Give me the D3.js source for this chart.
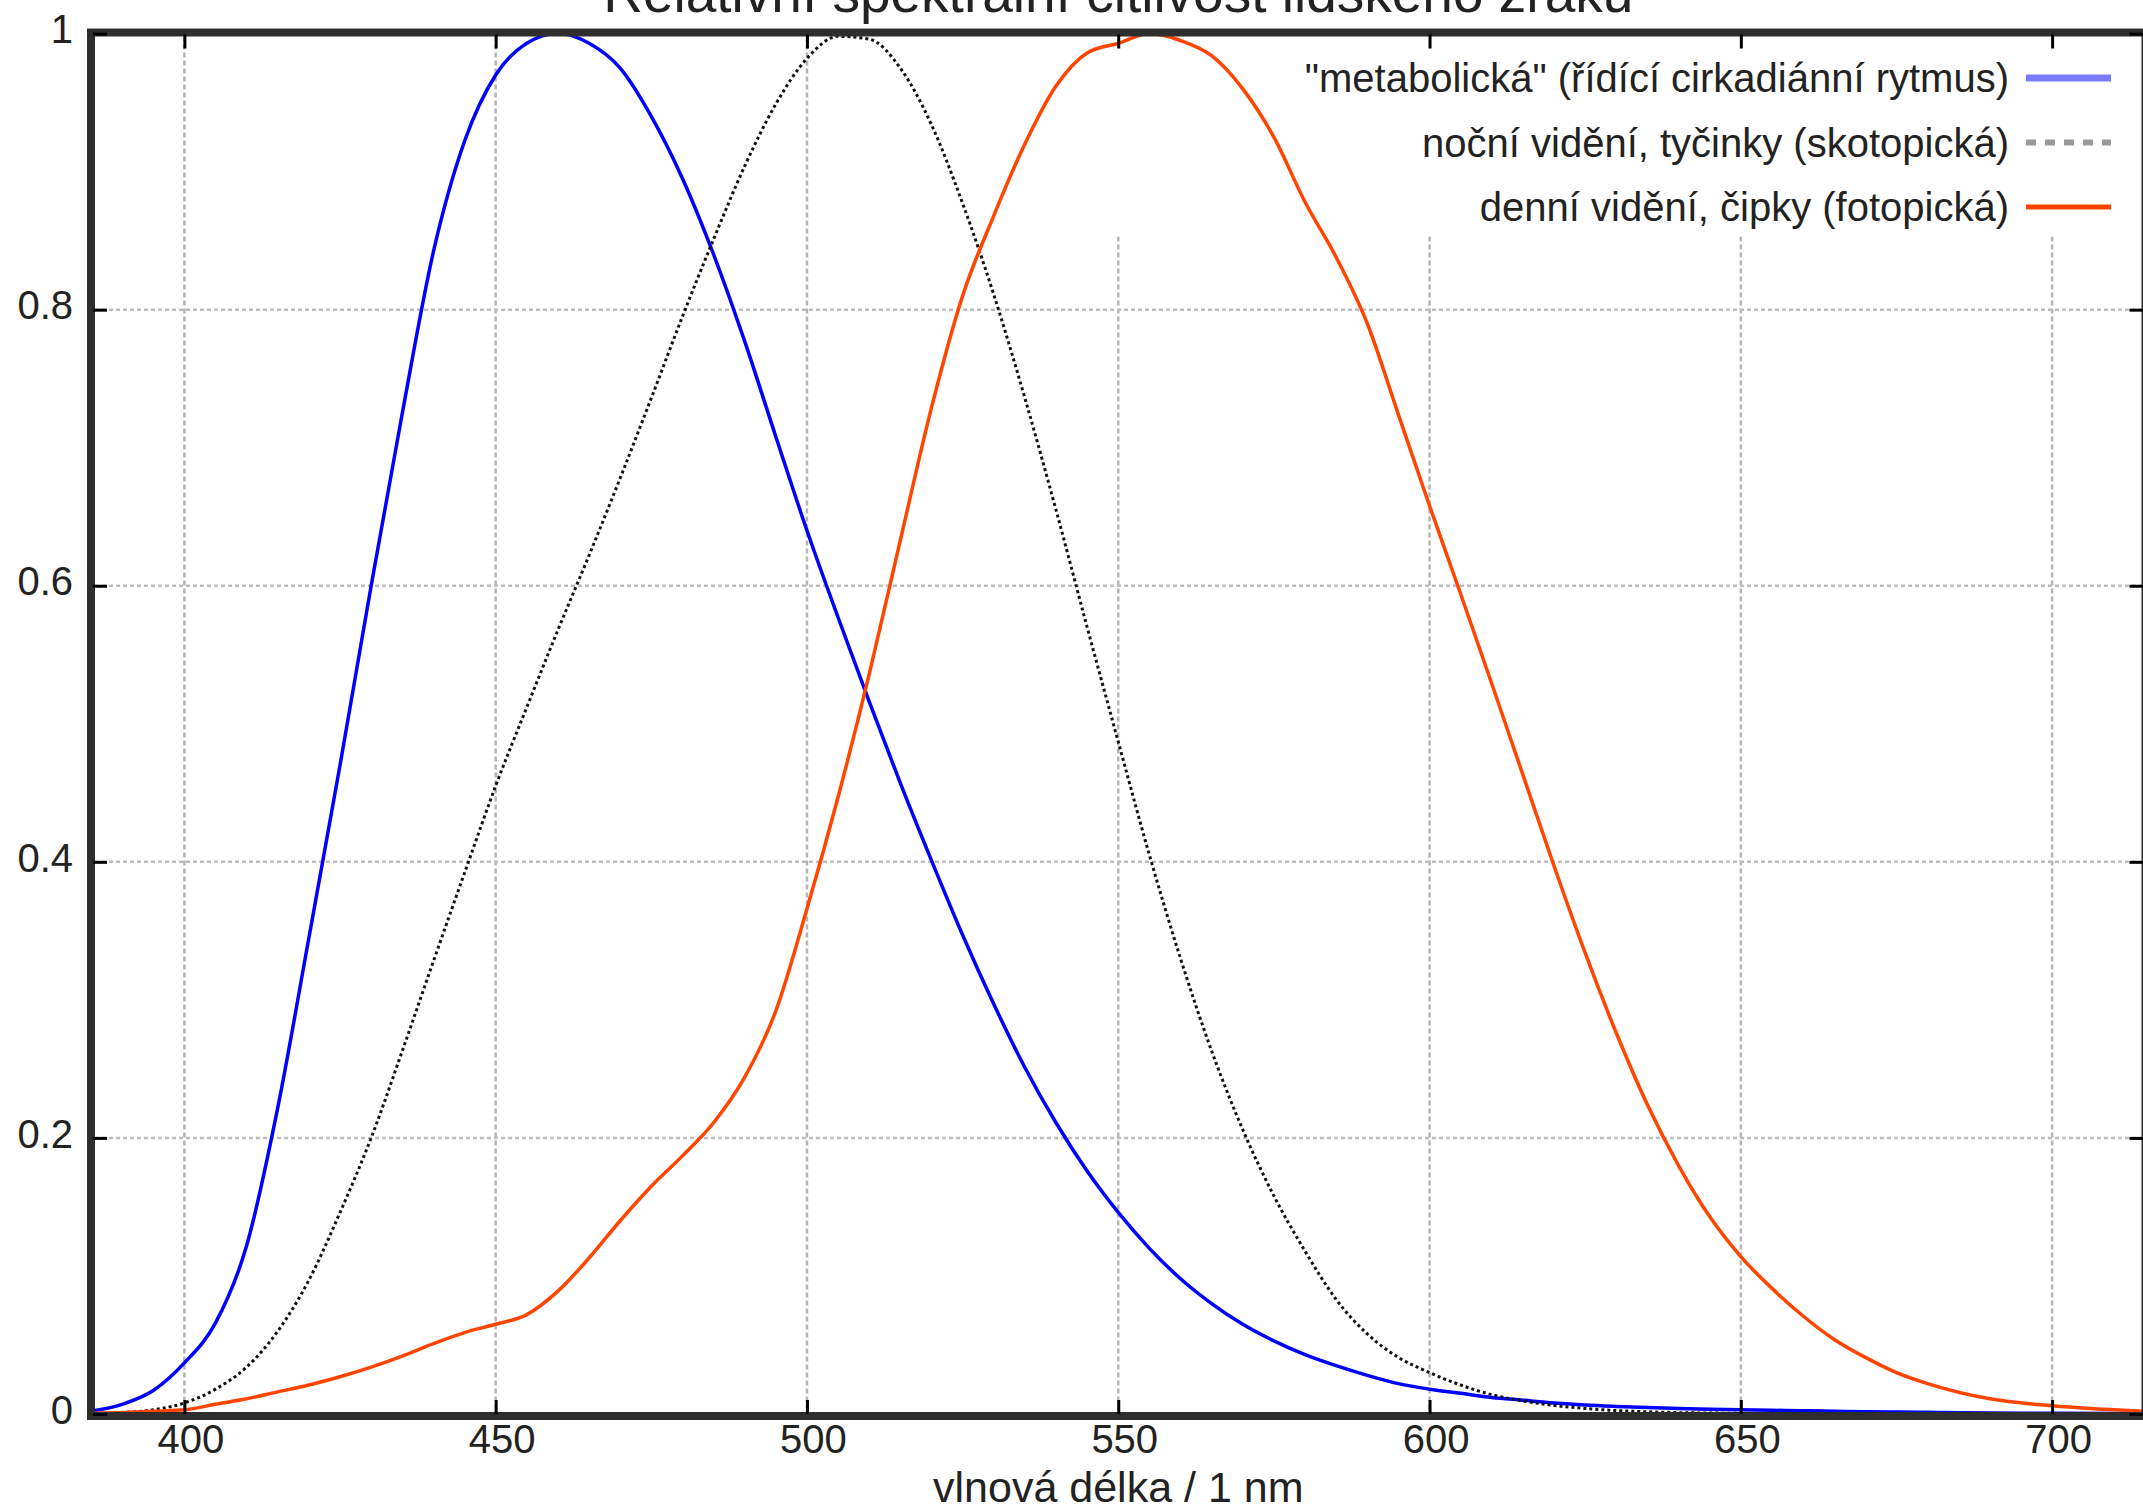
<!DOCTYPE html>
<html>
<head>
<meta charset="utf-8">
<script src="https://cdn.jsdelivr.net/npm/d3@7"></script>
<style>
	body { margin: 0; background: #fff; }
	svg { display: block; font-family: "Liberation Sans", Arial, sans-serif; }
</style>
</head>
<body>
<svg id="chart"></svg>
<script>
var title = "Relativní spektrální citlivost lidského zraku";
var xLabel = "vlnová délka / 1 nm";
var seriesNames = [
	"\"metabolická\" (řídící cirkadiánní rytmus)",
	"noční vidění, tyčinky (skotopická)",
	"denní vidění, čipky (fotopická)"
];
var xTicks = [400, 450, 500, 550, 600, 650, 700];
var yTicks = [0, 0.2, 0.4, 0.6, 0.8, 1];

// wavelength in nm
var wavelengths = [385, 390, 395, 400, 405, 410, 415, 420, 425, 430,
	435, 440, 445, 450, 455, 460, 465, 470, 475, 480,
	485, 490, 495, 500, 505, 510, 515, 520, 525, 530,
	535, 540, 545, 550, 555, 560, 565, 570, 575, 580,
	585, 590, 595, 600, 605, 610, 615, 620, 625, 630,
	635, 640, 645, 650, 655, 660, 665, 670, 675, 680,
	690, 700, 715];
var metabolic = [0.002, 0.007, 0.017, 0.037, 0.066, 0.122, 0.222, 0.345, 0.470, 0.600,
	0.725, 0.842, 0.922, 0.970, 0.993, 1.000, 0.993, 0.975, 0.940, 0.895,
	0.840, 0.777, 0.708, 0.640, 0.577, 0.516, 0.457, 0.401, 0.347, 0.297,
	0.251, 0.211, 0.176, 0.146, 0.120, 0.098, 0.080, 0.065, 0.053, 0.043,
	0.035, 0.028, 0.022, 0.018, 0.015, 0.012, 0.010, 0.008, 0.0065, 0.0055,
	0.0047, 0.004, 0.0035, 0.003, 0.0027, 0.0024, 0.002, 0.0017, 0.0014, 0.0012,
	0.0008, 0.0005, 0.0003];
var scotopic = [0.000, 0.001, 0.003, 0.008, 0.018, 0.034, 0.060, 0.097, 0.146, 0.200,
	0.263, 0.328, 0.392, 0.455, 0.512, 0.568, 0.622, 0.678, 0.736, 0.795,
	0.851, 0.904, 0.949, 0.982, 0.998, 0.996, 0.975, 0.934, 0.877, 0.811,
	0.736, 0.655, 0.570, 0.487, 0.405, 0.330, 0.263, 0.206, 0.158, 0.118,
	0.083, 0.058, 0.041, 0.030, 0.021, 0.014, 0.0095, 0.0062, 0.004, 0.0025,
	0.0016, 0.001, 0.0007, 0.0005, 0.0003, 0.0002, 0.0001, 0, 0, 0,
	0, 0, 0];
var photopic = [0.0005, 0.001, 0.002, 0.003, 0.007, 0.011, 0.016, 0.021, 0.027, 0.034,
	0.042, 0.051, 0.059, 0.065, 0.072, 0.089, 0.113, 0.140, 0.165, 0.187,
	0.211, 0.244, 0.292, 0.366, 0.447, 0.536, 0.633, 0.729, 0.810, 0.868,
	0.920, 0.962, 0.986, 0.993, 1.000, 0.995, 0.984, 0.960, 0.925, 0.878,
	0.838, 0.790, 0.724, 0.658, 0.594, 0.529, 0.463, 0.397, 0.334, 0.276,
	0.224, 0.180, 0.143, 0.114, 0.091, 0.071, 0.054, 0.041, 0.030, 0.022,
	0.011, 0.006, 0.002];

var width = 2143,
	height = 1512;
var plot = {left: 91, right: 2145.5, top: 32.5, bottom: 1416};

var svg = d3.select("#chart")
	.attr("width", width)
	.attr("height", height);

var x = d3.scaleLinear()
	.domain([385, 715])
	.range([plot.left, plot.right]);
var y = d3.scaleLinear()
	.domain([0, 1])
	.range([1414, 33.6]);

var series = [
	{name: seriesNames[0], values: metabolic, color: "#0000ff", width: 3.5, dash: null,
		keyColor: "#7b7bff", keyWidth: 7, keyDash: null},
	{name: seriesNames[1], values: scotopic, color: "#111", width: 3, dash: "3,3",
		keyColor: "#999", keyWidth: 6, keyDash: "10,9"},
	{name: seriesNames[2], values: photopic, color: "#ff4500", width: 3.5, dash: null,
		keyColor: "#ff4500", keyWidth: 5, keyDash: null}
];

// grid
var grid = svg.append("g").attr("class", "grid");
grid.selectAll("line.vx")
	.data(xTicks)
	.enter().append("line")
	.attr("class", "vx")
	.attr("x1", function(d) { return x(d); })
	.attr("x2", function(d) { return x(d); })
	.attr("y1", plot.top + 4)
	.attr("y2", plot.bottom - 4)
	.attr("stroke", "#b4b4b4")
	.attr("stroke-width", 2.5)
	.attr("stroke-dasharray", "5,3");
grid.selectAll("line.hy")
	.data(yTicks.slice(1, -1))
	.enter().append("line")
	.attr("class", "hy")
	.attr("x1", plot.left + 4)
	.attr("x2", plot.right - 4)
	.attr("y1", function(d) { return y(d); })
	.attr("y2", function(d) { return y(d); })
	.attr("stroke", "#bdbdbd")
	.attr("stroke-width", 2.5)
	.attr("stroke-dasharray", "4,3");

// key background hides the grid under it
svg.append("rect")
	.attr("x", 1100)
	.attr("y", plot.top + 4)
	.attr("width", plot.right - 1100 - 4)
	.attr("height", 200)
	.attr("fill", "#fff");

var line = d3.line()
	.x(function(d) { return x(d[0]); })
	.y(function(d) { return y(d[1]); })
	.curve(d3.curveMonotoneX);

svg.append("g")
	.attr("class", "curves")
	.selectAll("path")
	.data(series)
	.enter().append("path")
	.attr("fill", "none")
	.attr("stroke", function(s) { return s.color; })
	.attr("stroke-width", function(s) { return s.width; })
	.attr("stroke-dasharray", function(s) { return s.dash; })
	.attr("d", function(s) {
		return line(wavelengths.map(function(w, i) { return [w, s.values[i]]; }));
	});

// frame
svg.append("rect")
	.attr("x", plot.left)
	.attr("y", plot.top)
	.attr("width", plot.right - plot.left)
	.attr("height", plot.bottom - plot.top)
	.attr("fill", "none")
	.attr("stroke", "#2e2e2e")
	.attr("stroke-width", 8);

// axes, ticks pointing inward
var fmt = d3.format("~g");
var xAxis = svg.append("g")
	.attr("transform", "translate(0," + (plot.bottom - 2) + ")")
	.call(d3.axisBottom(x).tickValues(xTicks).tickSize(-14).tickFormat(fmt));
xAxis.selectAll("text")
	.attr("y", 39)
	.attr("dy", null)
	.attr("dx", 6);
svg.append("g")
	.attr("transform", "translate(0," + (plot.top + 2) + ")")
	.call(d3.axisTop(x).tickValues(xTicks).tickSize(-14).tickFormat(""));
var yAxis = svg.append("g")
	.attr("transform", "translate(" + (plot.left + 2) + ",0)")
	.call(d3.axisLeft(y).tickValues(yTicks).tickSize(-14).tickPadding(20).tickFormat(fmt));
yAxis.selectAll("text").attr("dy", "0.23em");
svg.append("g")
	.attr("transform", "translate(" + (plot.right - 2) + ",0)")
	.call(d3.axisRight(y).tickValues(yTicks).tickSize(-14).tickFormat(""));

svg.selectAll(".domain").remove();
svg.selectAll(".tick line")
	.attr("stroke", "#000")
	.attr("stroke-width", 3);
svg.selectAll(".tick text")
	.attr("font-size", 40)
	.attr("font-family", "\"Liberation Sans\", Arial, sans-serif")
	.attr("fill", "#222");

// key
var key = svg.append("g")
	.attr("class", "key")
	.selectAll("g")
	.data(series)
	.enter().append("g")
	.attr("transform", function(s, i) { return "translate(0," + (78 + i * 64.5) + ")"; });
key.append("text")
	.attr("x", 2009)
	.attr("y", 14)
	.attr("text-anchor", "end")
	.attr("font-size", 40)
	.attr("fill", "#222")
	.text(function(s) { return s.name; });
key.append("line")
	.attr("x1", 2026)
	.attr("x2", 2111)
	.attr("y1", 0)
	.attr("y2", 0)
	.attr("stroke", function(s) { return s.keyColor; })
	.attr("stroke-width", function(s) { return s.keyWidth; })
	.attr("stroke-dasharray", function(s) { return s.keyDash; });

svg.append("text")
	.attr("x", (plot.left + plot.right) / 2)
	.attr("y", 1502)
	.attr("text-anchor", "middle")
	.attr("font-size", 43)
	.attr("fill", "#222")
	.text(xLabel);

// the title sits mostly above the top edge, as in the original
svg.append("text")
	.attr("x", (plot.left + plot.right) / 2)
	.attr("y", 12)
	.attr("text-anchor", "middle")
	.attr("font-size", 55)
	.attr("fill", "#222")
	.text(title);
</script>
</body>
</html>
